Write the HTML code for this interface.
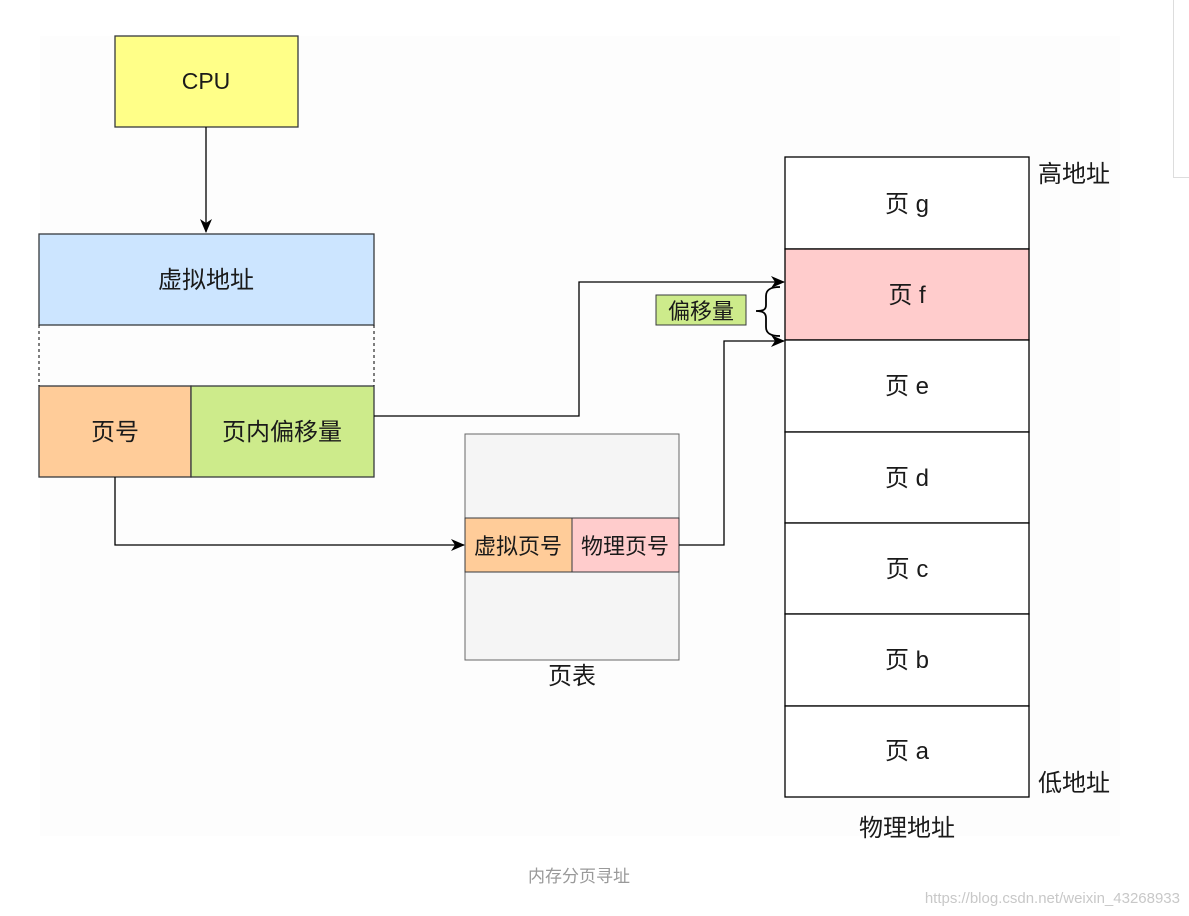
<!DOCTYPE html>
<html><head><meta charset="utf-8"><style>
html,body{margin:0;padding:0;background:#fff;width:1189px;height:916px;overflow:hidden}
svg text{font-family:"Liberation Sans","Noto Sans CJK SC",sans-serif;fill:#1a1a1a}
</style></head><body>
<svg width="1189" height="916" viewBox="0 0 1189 916" xmlns="http://www.w3.org/2000/svg">
<defs><marker id="a" markerWidth="14" markerHeight="12" refX="13" refY="6" orient="auto" markerUnits="userSpaceOnUse"><path d="M0,0 L14,6 L0,12 L4,6 Z" fill="#000"/></marker></defs>
<rect x="40" y="36" width="1080" height="800" fill="#fdfdfd"/>
<line x1="1173.5" y1="0" x2="1173.5" y2="177" stroke="#ddd"/>
<line x1="1173" y1="177.5" x2="1189" y2="177.5" stroke="#ddd"/>
<g stroke="#36393d" stroke-width="1.3">
<rect x="115" y="36" width="183" height="91" fill="#ffff88"/>
<rect x="39" y="234" width="335" height="91" fill="#cce5ff"/>
<rect x="39" y="386" width="152" height="91" fill="#ffcc99"/>
<rect x="191" y="386" width="183" height="91" fill="#cdeb8b"/>
</g>
<g stroke="#000" stroke-width="1" stroke-dasharray="3,3">
<line x1="39" y1="325" x2="39" y2="386"/><line x1="374" y1="325" x2="374" y2="386"/>
</g>
<rect x="465" y="434" width="214" height="226" fill="#f5f5f5" stroke="#666"/>
<rect x="465" y="518" width="107" height="54" fill="#ffcc99" stroke="#36393d"/>
<rect x="572" y="518" width="107" height="54" fill="#ffcccc" stroke="#36393d"/>
<g stroke="#000" stroke-width="1.3">
<rect x="785" y="157" width="244" height="92" fill="#fff"/>
<rect x="785" y="249" width="244" height="91" fill="#ffcccc"/>
<rect x="785" y="340" width="244" height="92" fill="#fff"/>
<rect x="785" y="432" width="244" height="91" fill="#fff"/>
<rect x="785" y="523" width="244" height="91" fill="#fff"/>
<rect x="785" y="614" width="244" height="92" fill="#fff"/>
<rect x="785" y="706" width="244" height="91" fill="#fff"/>
</g>
<g fill="none" stroke="#000" stroke-width="1.3">
<path d="M206,127 V232" marker-end="url(#a)"/>
<path d="M374,416 H579 V282 H784" marker-end="url(#a)"/>
<path d="M115,477 V545 H464" marker-end="url(#a)"/>
<path d="M679,545 H724 V341 H784" marker-end="url(#a)"/>
<path d="M780,287 C770,287 766,290 766,296 V305 C766,310 763,311 756,311 C763,311 766,313 766,318 V327 C766,333 770,336 780,336" stroke-width="1.8"/>
</g>
<rect x="656" y="295" width="90" height="30" fill="#cdeb8b" stroke="#36393d"/>
<g font-size="24" text-anchor="middle">
<text x="206" y="89" font-size="23">CPU</text>
<text x="206" y="288">虚拟地址</text>
<text x="115" y="440">页号</text>
<text x="282" y="440">页内偏移量</text>
<text x="518" y="554" font-size="22">虚拟页号</text>
<text x="625" y="554" font-size="22">物理页号</text>
<text x="572" y="684">页表</text>
<text x="701" y="319" font-size="22">偏移量</text>
<text x="907" y="212">页 g</text>
<text x="907" y="303">页 f</text>
<text x="907" y="394">页 e</text>
<text x="907" y="486">页 d</text>
<text x="907" y="577">页 c</text>
<text x="907" y="668">页 b</text>
<text x="907" y="759">页 a</text>
<text x="907" y="836">物理地址</text>
</g>
<text x="1038" y="182" font-size="24">高地址</text>
<text x="1038" y="791" font-size="24">低地址</text>
<text x="579" y="882" font-size="17" text-anchor="middle" style="fill:#999">内存分页寻址</text>
<text x="1180" y="903" font-size="15" text-anchor="end" style="fill:#c8c8c8">https://blog.csdn.net/weixin_43268933</text>
</svg>
</body></html>
